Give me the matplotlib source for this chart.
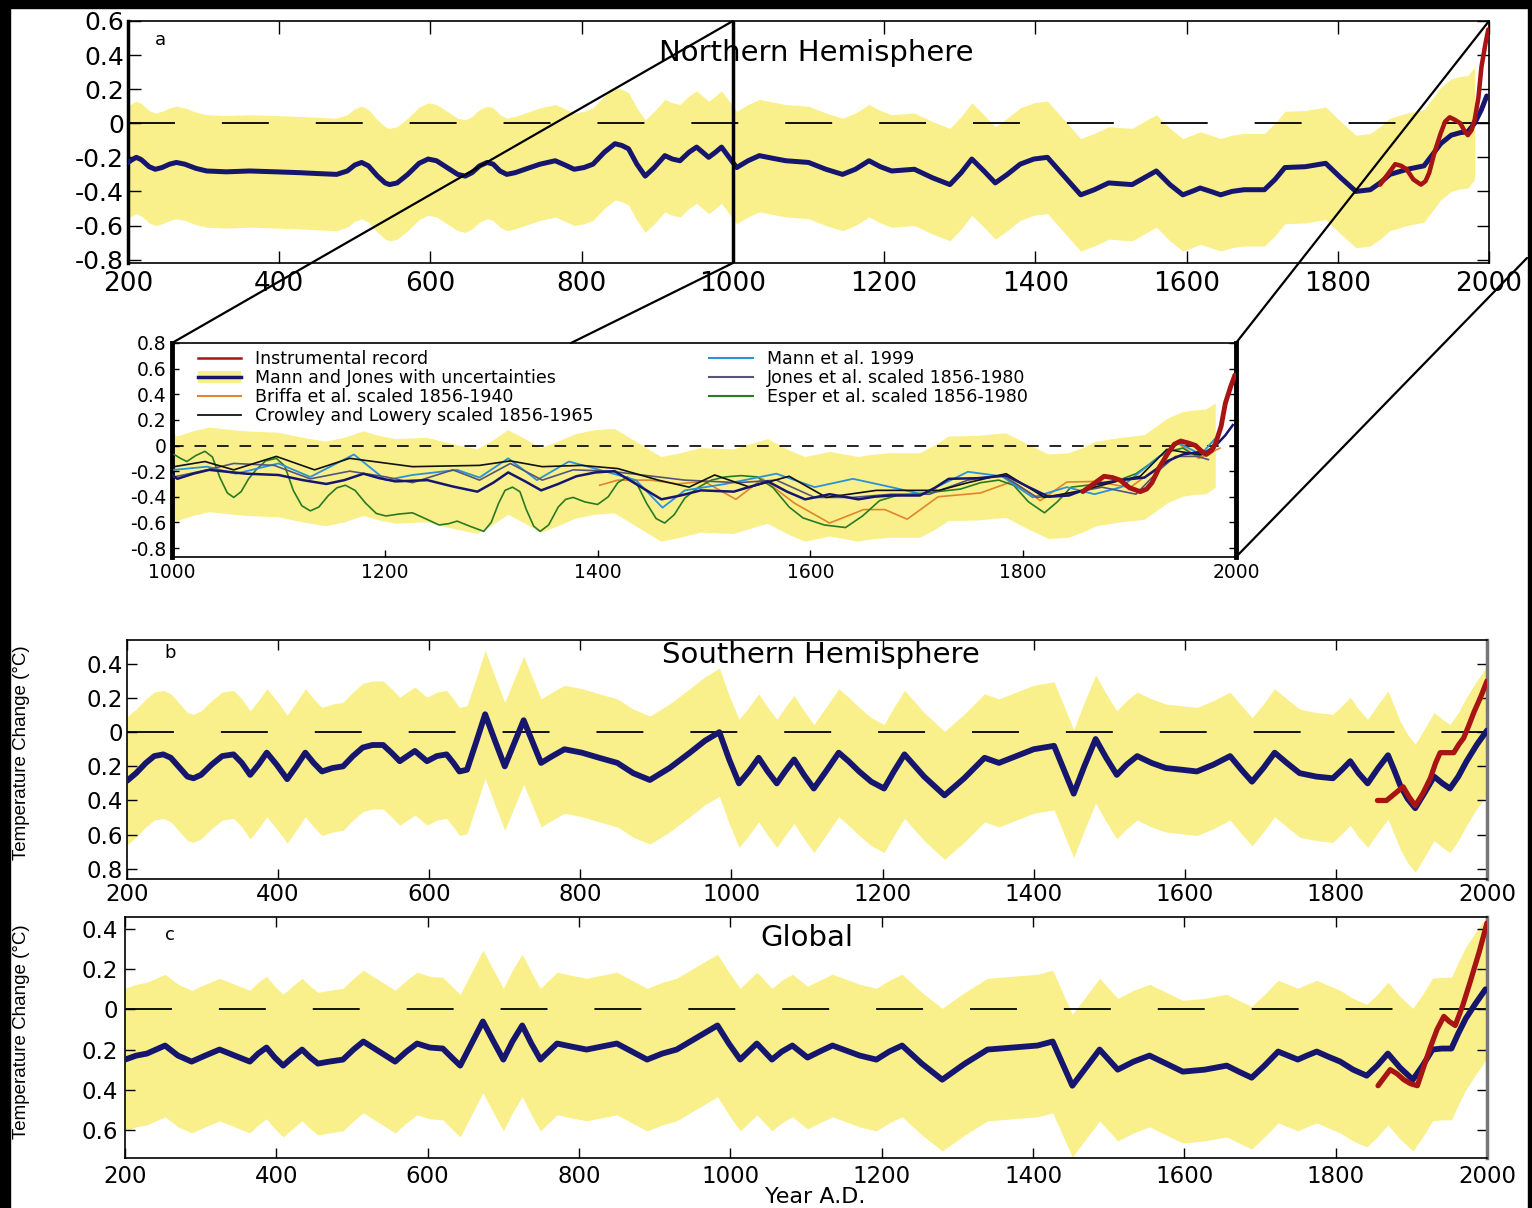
import numpy as np
import matplotlib
matplotlib.use("Agg")
import matplotlib.pyplot as plt
from matplotlib.patches import ConnectionPatch, Patch, Rectangle
from matplotlib.lines import Line2D

plt.rcParams['font.family'] = ['DejaVu Sans']
plt.rcParams['axes.unicode_minus'] = False

# ---- Northern Hemisphere (Mann and Jones) ----
nh_years = [200, 205, 211, 218, 228, 236, 245, 255, 264, 275, 290, 304, 330, 361, 395, 427,
            450, 476, 490, 500, 509, 518, 530, 540, 546, 556, 570, 585, 597, 608, 622, 636,
            646, 655, 665, 675, 683, 692, 701, 712, 725, 745, 765, 778, 790, 803, 815, 830,
            844, 853, 862, 873, 884, 896, 910, 920, 930, 942, 952, 960, 968, 977, 985, 995,
            1005, 1020, 1035, 1052, 1070, 1100, 1123, 1145, 1162, 1180, 1195, 1210, 1240,
            1264, 1287, 1302, 1316, 1332, 1347, 1363, 1380, 1398, 1416, 1438, 1460, 1478,
            1497, 1512, 1528, 1544, 1560, 1578, 1595, 1607, 1618, 1632, 1645, 1660, 1676,
            1703, 1717, 1730, 1757, 1784, 1804, 1824, 1843, 1856, 1869, 1892, 1914, 1926,
            1936, 1950, 1962, 1972, 1981, 1990, 1997]
nh_temp = [-0.23, -0.215, -0.20, -0.215, -0.255, -0.27, -0.26, -0.24, -0.23, -0.24, -0.265,
           -0.28, -0.285, -0.28, -0.285, -0.29, -0.295, -0.30, -0.28, -0.245, -0.23, -0.25,
           -0.31, -0.35, -0.36, -0.35, -0.30, -0.235, -0.21, -0.22, -0.26, -0.30, -0.31,
           -0.29, -0.25, -0.23, -0.24, -0.28, -0.30, -0.29, -0.27, -0.24, -0.22, -0.245,
           -0.27, -0.26, -0.24, -0.17, -0.12, -0.13, -0.15, -0.24, -0.31, -0.26, -0.19,
           -0.21, -0.22, -0.17, -0.14, -0.17, -0.20, -0.17, -0.14, -0.20, -0.26, -0.22,
           -0.19, -0.205, -0.22, -0.23, -0.27, -0.30, -0.27, -0.22, -0.255, -0.28, -0.27,
           -0.32, -0.36, -0.29, -0.21, -0.28, -0.35, -0.30, -0.24, -0.21, -0.20, -0.31,
           -0.42, -0.39, -0.35, -0.355, -0.36, -0.32, -0.28, -0.36, -0.42, -0.40, -0.38,
           -0.40, -0.42, -0.40, -0.39, -0.39, -0.33, -0.26, -0.255, -0.235, -0.32, -0.40,
           -0.39, -0.35, -0.30, -0.27, -0.25, -0.18, -0.12, -0.07, -0.055, -0.05, 0.0,
           0.08, 0.16]
nh_halfwidth = 0.33
nh_band_end = 1981
nh_inst_years = [1856, 1866, 1876, 1884, 1891, 1900, 1910, 1916, 1921, 1928, 1936, 1942,
                 1948, 1955, 1962, 1967, 1972, 1977, 1981, 1986, 1990, 1995, 1999]
nh_inst = [-0.36, -0.30, -0.24, -0.25, -0.27, -0.33, -0.36, -0.34, -0.29, -0.17, -0.06,
           0.01, 0.035, 0.02, 0.0, -0.04, -0.07, -0.04, 0.02, 0.15, 0.33, 0.46, 0.55]

# ---- Southern Hemisphere ----
sh_years = [200, 212, 225, 236, 248, 258, 270, 280, 288, 298, 312, 326, 341, 352, 363, 374,
            385, 398, 412, 424, 436, 447, 458, 472, 486, 499, 512, 525, 539, 550, 561, 571,
            581, 589, 597, 610, 623, 632, 640, 650, 662, 674, 687, 700, 712, 725, 737, 748,
            763, 779, 802, 825, 849, 870, 892, 918, 945, 965, 984, 997, 1010, 1023, 1036,
            1048, 1060, 1071, 1083, 1096, 1109, 1125, 1142, 1155, 1169, 1185, 1202, 1215,
            1229, 1255, 1282, 1308, 1335, 1354, 1377, 1400, 1427, 1440, 1453, 1467, 1482,
            1496, 1510, 1523, 1537, 1556, 1575, 1596, 1616, 1638, 1660, 1675, 1689, 1704,
            1719, 1735, 1752, 1774, 1796, 1808, 1819, 1830, 1842, 1856, 1869, 1877, 1885,
            1895, 1905, 1918, 1930, 1941, 1951, 1962, 1973, 1987, 2000]
sh_temp = [-0.285, -0.24, -0.18, -0.14, -0.13, -0.15, -0.21, -0.26, -0.27, -0.25, -0.19,
           -0.14, -0.13, -0.18, -0.25, -0.19, -0.12, -0.19, -0.275, -0.20, -0.12, -0.18,
           -0.23, -0.21, -0.20, -0.14, -0.09, -0.075, -0.075, -0.12, -0.17, -0.14, -0.11,
           -0.14, -0.17, -0.14, -0.13, -0.18, -0.23, -0.22, -0.06, 0.105, -0.05, -0.20,
           -0.07, 0.07, -0.06, -0.18, -0.14, -0.10, -0.12, -0.15, -0.18, -0.24, -0.28,
           -0.21, -0.12, -0.05, 0.0, -0.16, -0.30, -0.23, -0.15, -0.23, -0.30, -0.23,
           -0.16, -0.25, -0.33, -0.23, -0.12, -0.17, -0.23, -0.29, -0.33, -0.23, -0.13,
           -0.26, -0.37, -0.27, -0.15, -0.18, -0.14, -0.10, -0.08, -0.22, -0.36, -0.20,
           -0.04, -0.15, -0.25, -0.19, -0.14, -0.18, -0.21, -0.22, -0.23, -0.19, -0.14,
           -0.22, -0.29, -0.21, -0.12, -0.18, -0.24, -0.26, -0.27, -0.22, -0.17, -0.24,
           -0.30, -0.21, -0.135, -0.22, -0.31, -0.39, -0.445, -0.35, -0.26, -0.30, -0.33,
           -0.26, -0.17, -0.07, 0.01]
sh_halfwidth = 0.375
sh_inst_years = [1855, 1867, 1878, 1889, 1897, 1905, 1915, 1925, 1932, 1938, 1947, 1956,
                 1963, 1969, 1976, 1983, 1992, 2000]
sh_inst = [-0.40, -0.40, -0.36, -0.32, -0.38, -0.43, -0.36, -0.27, -0.18, -0.12, -0.12,
           -0.12, -0.07, -0.035, 0.04, 0.12, 0.21, 0.30]

# ---- Global ----
gl_years = [200, 215, 229, 241, 253, 270, 288, 306, 325, 345, 365, 376, 387, 398, 409, 421,
            434, 445, 455, 470, 488, 502, 515, 536, 557, 572, 586, 603, 620, 632, 643, 658,
            673, 687, 700, 712, 725, 737, 749, 760, 771, 790, 810, 830, 850, 870, 890, 910,
            929, 956, 983, 998, 1013, 1024, 1035, 1045, 1055, 1068, 1082, 1092, 1102, 1118,
            1135, 1153, 1171, 1193, 1210, 1227, 1253, 1280, 1310, 1340, 1373, 1406, 1426,
            1439, 1452, 1470, 1488, 1500, 1512, 1533, 1554, 1576, 1598, 1627, 1656, 1672,
            1689, 1706, 1724, 1737, 1750, 1762, 1775, 1790, 1806, 1823, 1841, 1855, 1869,
            1885, 1902, 1915, 1928, 1940, 1953, 1962, 1972, 1985, 1998]
gl_temp = [-0.25, -0.23, -0.22, -0.20, -0.18, -0.23, -0.26, -0.23, -0.20, -0.23, -0.26,
           -0.22, -0.19, -0.24, -0.28, -0.24, -0.20, -0.24, -0.27, -0.26, -0.25, -0.20,
           -0.16, -0.21, -0.26, -0.21, -0.17, -0.19, -0.195, -0.24, -0.28, -0.17, -0.06,
           -0.16, -0.25, -0.16, -0.08, -0.17, -0.25, -0.21, -0.17, -0.185, -0.20, -0.185,
           -0.17, -0.21, -0.25, -0.22, -0.20, -0.14, -0.08, -0.17, -0.25, -0.21, -0.17,
           -0.21, -0.25, -0.21, -0.18, -0.21, -0.24, -0.21, -0.18, -0.205, -0.23, -0.25,
           -0.21, -0.18, -0.27, -0.35, -0.27, -0.20, -0.19, -0.18, -0.16, -0.27, -0.38,
           -0.29, -0.20, -0.25, -0.30, -0.26, -0.23, -0.27, -0.31, -0.30, -0.28, -0.31,
           -0.34, -0.28, -0.21, -0.23, -0.25, -0.23, -0.21, -0.235, -0.26, -0.30, -0.33,
           -0.28, -0.22, -0.29, -0.35, -0.28, -0.20, -0.195, -0.195, -0.12, -0.045, 0.03,
           0.10]
gl_halfwidth = 0.355
gl_inst_years = [1856, 1864, 1872, 1881, 1890, 1899, 1908, 1916, 1925, 1934, 1943, 1950,
                 1958, 1968, 1978, 1990, 2000]
gl_inst = [-0.38, -0.34, -0.30, -0.32, -0.35, -0.37, -0.38, -0.29, -0.19, -0.10, -0.035,
           -0.06, -0.08, 0.02, 0.14, 0.29, 0.43]

# ---- other NH reconstructions (1000-2000 detail panel) ----
esper_years = [1002, 1008, 1014, 1022, 1031, 1038, 1045, 1052, 1058, 1065, 1072, 1079, 1088,
               1098, 1106, 1114, 1122, 1130, 1138, 1147, 1155, 1163, 1172, 1182, 1192, 1201,
               1213, 1226, 1238, 1251, 1260, 1268, 1280, 1293, 1300, 1307, 1313, 1320, 1327,
               1333, 1340, 1346, 1354, 1363, 1370, 1377, 1388, 1400, 1410, 1419, 1428, 1437,
               1446, 1455, 1463, 1472, 1482, 1495, 1507, 1520, 1535, 1550, 1565, 1580, 1593,
               1613, 1633, 1649, 1665, 1681, 1697, 1719, 1741, 1760, 1777, 1791, 1805, 1820,
               1832, 1845, 1860, 1874, 1890, 1906, 1918, 1928, 1940, 1950, 1958, 1965, 1972,
               1980]
esper = [-0.07, -0.10, -0.125, -0.08, -0.045, -0.09, -0.25, -0.37, -0.405, -0.36, -0.26,
         -0.19, -0.12, -0.10, -0.16, -0.35, -0.47, -0.51, -0.48, -0.39, -0.33, -0.31, -0.35,
         -0.45, -0.53, -0.55, -0.535, -0.525, -0.57, -0.62, -0.61, -0.59, -0.63, -0.67,
         -0.60, -0.45, -0.35, -0.325, -0.36, -0.50, -0.63, -0.67, -0.62, -0.48, -0.42,
         -0.405, -0.44, -0.46, -0.40, -0.29, -0.245, -0.30, -0.45, -0.57, -0.605, -0.54,
         -0.41, -0.325, -0.27, -0.245, -0.235, -0.245, -0.33, -0.48, -0.565, -0.62, -0.64,
         -0.55, -0.43, -0.39, -0.38, -0.36, -0.34, -0.29, -0.27, -0.31, -0.44, -0.525,
         -0.44, -0.325, -0.31, -0.30, -0.27, -0.22, -0.15, -0.085, -0.04, -0.02, -0.06,
         -0.08, -0.06, -0.02]
briffa_years = [1402, 1419, 1450, 1475, 1500, 1530, 1555, 1585, 1618, 1650, 1670, 1691, 1720,
                1760, 1790, 1816, 1841, 1870, 1900, 1925, 1945, 1965, 1985]
briffa = [-0.31, -0.27, -0.27, -0.30, -0.28, -0.42, -0.26, -0.45, -0.605, -0.50, -0.50,
          -0.575, -0.40, -0.37, -0.28, -0.43, -0.285, -0.28, -0.33, -0.18, 0.02, -0.10, -0.02]
mann99_years = [1002, 1033, 1060, 1100, 1130, 1171, 1201, 1226, 1268, 1289, 1316, 1343, 1373,
                1402, 1436, 1461, 1482, 1520, 1568, 1604, 1640, 1676, 1705, 1748, 1780, 1809,
                1841, 1867, 1892, 1928, 1946, 1967, 1980]
mann99 = [-0.19, -0.165, -0.22, -0.14, -0.245, -0.07, -0.27, -0.23, -0.19, -0.25, -0.10,
          -0.27, -0.125, -0.19, -0.27, -0.485, -0.35, -0.30, -0.22, -0.325, -0.26, -0.325,
          -0.38, -0.205, -0.24, -0.405, -0.325, -0.38, -0.325, -0.085, 0.02, -0.07, 0.05]
crowley_years = [1002, 1031, 1058, 1098, 1134, 1167, 1226, 1289, 1318, 1348, 1385, 1419, 1457,
                 1486, 1510, 1543, 1580, 1615, 1662, 1721, 1748, 1784, 1820, 1856, 1892, 1910,
                 1935, 1957, 1967]
crowley = [-0.165, -0.125, -0.19, -0.085, -0.19, -0.10, -0.165, -0.155, -0.12, -0.165, -0.155,
           -0.18, -0.27, -0.325, -0.23, -0.325, -0.24, -0.405, -0.35, -0.35, -0.29, -0.22,
           -0.405, -0.35, -0.27, -0.24, -0.03, -0.06, -0.07]
jones_years = [1002, 1033, 1058, 1096, 1130, 1167, 1201, 1226, 1264, 1289, 1318, 1348, 1377,
               1411, 1457, 1482, 1532, 1568, 1604, 1640, 1676, 1712, 1748, 1780, 1813, 1841,
               1874, 1906, 1928, 1943, 1964, 1974]
jones = [-0.245, -0.19, -0.14, -0.155, -0.26, -0.20, -0.245, -0.29, -0.19, -0.27, -0.14,
         -0.27, -0.19, -0.20, -0.245, -0.27, -0.29, -0.27, -0.405, -0.405, -0.38, -0.38,
         -0.27, -0.23, -0.405, -0.38, -0.325, -0.38, -0.19, -0.085, -0.085, -0.11]

YELLOW = '#f9f08c'
NAVY = '#16166e'
RED = '#a81414'

W, H = 1532, 1208
fig = plt.figure(figsize=(W / 100, H / 100), dpi=100)


def box(left, top, right, bottom):
    return [left / W, 1 - bottom / H, (right - left) / W, (bottom - top) / H]


def style(ax, size, length, pad):
    ax.tick_params(direction='in', top=True, right=True, length=length, width=1,
                   labelsize=size, pad=pad)
    for s in ax.spines.values():
        s.set_linewidth(1.2)


def band(yrs, temp, halfwidth, end=2000):
    yrs = np.array(yrs)
    temp = np.array(temp)
    lo = np.where(yrs <= end, temp - halfwidth, np.nan)
    hi = np.where(yrs <= end, temp + halfwidth, np.nan)
    return yrs, lo, hi


def draw_panel(ax, yrs, temp, halfwidth, inst_yrs, inst, lw, end=2000):
    x, lo, hi = band(yrs, temp, halfwidth, end)
    ax.fill_between(x, lo, hi, color=YELLOW, lw=0, zorder=1)
    ax.axhline(0, color='black', lw=1.3, dashes=(26, 26), zorder=2)
    ax.plot(yrs, temp, color=NAVY, lw=lw, solid_joinstyle='round',
            solid_capstyle='round', zorder=3)
    ax.plot(inst_yrs, inst, color=RED, lw=lw * 0.9, solid_joinstyle='round',
            solid_capstyle='round', zorder=4)
    ax.set_xlim(200, 2000)
    ax.set_xticks(range(200, 2001, 200))


# panel a
axA = fig.add_axes(box(128, 21, 1489, 263))
draw_panel(axA, nh_years, nh_temp, nh_halfwidth, nh_inst_years, nh_inst, 3.6, nh_band_end)
axA.set_ylim(-0.82, 0.6)
axA.set_yticks([0.6, 0.4, 0.2, 0, -0.2, -0.4, -0.6, -0.8])
axA.set_yticklabels(['0.6', '0.4', '0.2', '0', '-0.2', '-0.4', '-0.6', '-0.8'])
style(axA, 19, 9, 3)
axA.tick_params(axis='y', labelsize=18)
axA.tick_params(axis='x', pad=6)
axA.spines['left'].set_linewidth(2.5)
axA.axvline(1000, color='black', lw=2.5, zorder=5)
axA.text(0.506, 0.868, 'Northern Hemisphere', transform=axA.transAxes,
         ha='center', va='center', fontsize=21)
axA.text(0.024, 0.92, 'a', transform=axA.transAxes, ha='center', va='center', fontsize=13)

# detail panel 1000-2000
axI = fig.add_axes(box(172, 343, 1236, 557))
x, lo, hi = band(nh_years, nh_temp, nh_halfwidth, nh_band_end)
axI.fill_between(x, lo, hi, color=YELLOW, lw=0, zorder=1)
axI.axhline(0, color='black', lw=1.2, dashes=(7, 6.5), zorder=2)
thin = dict(solid_joinstyle='round', zorder=3)
axI.plot(briffa_years, briffa, color='#e0862a', lw=1.2, **thin)
axI.plot(esper_years, esper, color='#2a7a24', lw=1.2, **thin)
axI.plot(mann99_years, mann99, color='#2a92d8', lw=1.3, **thin)
axI.plot(jones_years, jones, color='#55557a', lw=1.2, **thin)
axI.plot(crowley_years, crowley, color='#111111', lw=1.2, **thin)
axI.plot(nh_years, nh_temp, color=NAVY, lw=1.8, solid_joinstyle='round', zorder=4)
axI.plot(nh_inst_years, nh_inst, color=RED, lw=3.5, solid_capstyle='round',
         solid_joinstyle='round', zorder=5)
axI.set_xlim(1000, 2000)
axI.set_ylim(-0.87, 0.8)
axI.set_xticks(range(1000, 2001, 200))
axI.set_yticks([0.8, 0.6, 0.4, 0.2, 0, -0.2, -0.4, -0.6, -0.8])
axI.set_yticklabels(['0.8', '0.6', '0.4', '0.2', '0', '-0.2', '-0.4', '-0.6', '-0.8'])
style(axI, 13.5, 5, 4)
axI.tick_params(top=False)
axI.spines['left'].set_linewidth(3.5)
axI.spines['right'].set_linewidth(3.5)

col1 = [Line2D([], [], color=RED, lw=1.8),
        (Patch(facecolor=YELLOW, edgecolor='none'), Line2D([], [], color=NAVY, lw=2.5)),
        Line2D([], [], color='#e0862a', lw=1.5),
        Line2D([], [], color='#111111', lw=1.3)]
col1_labels = ['Instrumental record', 'Mann and Jones with uncertainties',
               'Briffa et al. scaled 1856-1940', 'Crowley and Lowery scaled 1856-1965']
col2 = [Line2D([], [], color='#2a92d8', lw=1.5),
        Line2D([], [], color='#55557a', lw=1.5),
        Line2D([], [], color='#2a7a24', lw=1.5)]
col2_labels = ['Mann et al. 1999', 'Jones et al. scaled 1856-1980',
               'Esper et al. scaled 1856-1980']
leg_kw = dict(loc='upper left', frameon=False, fontsize=12.5, handlelength=2.5,
              handletextpad=0.8, labelspacing=0.05, borderpad=0, borderaxespad=0)
leg1 = axI.legend(col1, col1_labels, bbox_to_anchor=(0.024, 0.965), **leg_kw)
axI.add_artist(leg1)
axI.legend(col2, col2_labels, bbox_to_anchor=(0.505, 0.965), **leg_kw)

# panel b
axB = fig.add_axes(box(127, 640, 1487, 879))
draw_panel(axB, sh_years, sh_temp, sh_halfwidth, sh_inst_years, sh_inst, 4.2)
axB.set_ylim(-0.86, 0.54)
axB.set_yticks([0.4, 0.2, 0, -0.2, -0.4, -0.6, -0.8])
axB.set_yticklabels(['0.4', '0.2', '0', '0.2', '0.4', '0.6', '0.8'])
style(axB, 16.5, 7, 3)
axB.spines['right'].set_linewidth(2.5)
axB.spines['right'].set_color('#777777')
axB.text(0.51, 0.937, 'Southern Hemisphere', transform=axB.transAxes,
         ha='center', va='center', fontsize=21)
axB.text(0.032, 0.946, 'b', transform=axB.transAxes, ha='center', va='center', fontsize=13)

# panel c
axC = fig.add_axes(box(125, 917, 1487, 1158))
draw_panel(axC, gl_years, gl_temp, gl_halfwidth, gl_inst_years, gl_inst, 4.2)
axC.set_ylim(-0.74, 0.46)
axC.set_yticks([0.4, 0.2, 0, -0.2, -0.4, -0.6])
axC.set_yticklabels(['0.4', '0.2', '0', '0.2', '0.4', '0.6'])
style(axC, 16.5, 7, 5)
axC.spines['right'].set_linewidth(2.5)
axC.spines['right'].set_color('#777777')
axC.text(0.501, 0.913, 'Global', transform=axC.transAxes,
         ha='center', va='center', fontsize=21)
axC.text(0.033, 0.925, 'c', transform=axC.transAxes, ha='center', va='center', fontsize=13)

for y in (753, 1032):
    fig.text(22 / W, 1 - y / H, 'Temperature Change (\u00b0C)', rotation=90,
             ha='center', va='center', fontsize=13.5, family=['Liberation Sans'])
fig.text(815 / W, 1 - 1197 / H, 'Year A.D.', ha='center', va='center', fontsize=16)

# perspective lines from the detail panel up to panel a
links = [((0, 1), (1000, 0.6)), ((0.375, 1), (1000, -0.82)), ((1, 1), (2000, 0.6))]
for a, b in links:
    con = ConnectionPatch(xyA=a, coordsA=axI.transAxes, xyB=b, coordsB=axA.transData,
                          color='black', lw=1.6)
    fig.add_artist(con)
con = ConnectionPatch(xyA=(1, 0), coordsA=axI.transAxes, xyB=(1527 / W, 1 - 258 / H),
                      coordsB=fig.transFigure, color='black', lw=1.6)
fig.add_artist(con)

# dark frame edges
for rect in [(0, 0, 10 / W, 1), (0, 1 - 8 / H, 1, 8 / H), (1528 / W, 0, 4 / W, 1)]:
    fig.add_artist(Rectangle(rect[:2], rect[2], rect[3], transform=fig.transFigure,
                             color='black', zorder=10))

fig.savefig('out.png', dpi=100)
